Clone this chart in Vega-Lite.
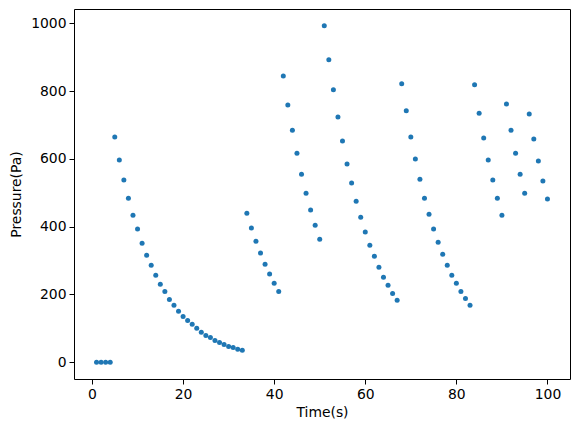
{
  "$schema": "https://vega.github.io/schema/vega-lite/v6.json",
  "autosize": {"type": "none"},
  "width": 496,
  "height": 370,
  "padding": {"left": 74, "top": 9, "right": 10, "bottom": 53},
  "background": "white",
  "config": {
    "font": "DejaVu Sans",
    "view": {"stroke": "black", "strokeWidth": 1},
    "axis": {
      "grid": false,
      "domain": false,
      "tickColor": "black",
      "tickSize": 5,
      "tickWidth": 1,
      "labelColor": "black",
      "labelFontSize": 13.9,
      "labelFont": "DejaVu Sans",
      "titleFont": "DejaVu Sans",
      "titleFontSize": 13.9,
      "titleFontWeight": "normal",
      "titleColor": "black",
      "labelPadding": 3
    }
  },
  "data": {
    "values": [
      {"t": 1, "p": 0}, {"t": 2, "p": 0}, {"t": 3, "p": 0}, {"t": 4, "p": 0},
      {"t": 5, "p": 665}, {"t": 6, "p": 597}, {"t": 7, "p": 538}, {"t": 8, "p": 484},
      {"t": 9, "p": 434}, {"t": 10, "p": 393}, {"t": 11, "p": 351}, {"t": 12, "p": 316},
      {"t": 13, "p": 286}, {"t": 14, "p": 257}, {"t": 15, "p": 230}, {"t": 16, "p": 209},
      {"t": 17, "p": 185}, {"t": 18, "p": 168}, {"t": 19, "p": 150}, {"t": 20, "p": 135},
      {"t": 21, "p": 123}, {"t": 22, "p": 112}, {"t": 23, "p": 100}, {"t": 24, "p": 88},
      {"t": 25, "p": 79}, {"t": 26, "p": 73}, {"t": 27, "p": 64}, {"t": 28, "p": 58},
      {"t": 29, "p": 52}, {"t": 30, "p": 46}, {"t": 31, "p": 43}, {"t": 32, "p": 38},
      {"t": 33, "p": 35},
      {"t": 34, "p": 440}, {"t": 35, "p": 396}, {"t": 36, "p": 357}, {"t": 37, "p": 322},
      {"t": 38, "p": 289}, {"t": 39, "p": 260}, {"t": 40, "p": 233}, {"t": 41, "p": 209},
      {"t": 42, "p": 845}, {"t": 43, "p": 759}, {"t": 44, "p": 685}, {"t": 45, "p": 617},
      {"t": 46, "p": 555}, {"t": 47, "p": 499}, {"t": 48, "p": 449}, {"t": 49, "p": 404},
      {"t": 50, "p": 363},
      {"t": 51, "p": 993}, {"t": 52, "p": 893}, {"t": 53, "p": 804}, {"t": 54, "p": 724},
      {"t": 55, "p": 653}, {"t": 56, "p": 585}, {"t": 57, "p": 529}, {"t": 58, "p": 475},
      {"t": 59, "p": 428}, {"t": 60, "p": 384}, {"t": 61, "p": 345}, {"t": 62, "p": 313},
      {"t": 63, "p": 280}, {"t": 64, "p": 251}, {"t": 65, "p": 227}, {"t": 66, "p": 203},
      {"t": 67, "p": 183},
      {"t": 68, "p": 822}, {"t": 69, "p": 742}, {"t": 70, "p": 665}, {"t": 71, "p": 600},
      {"t": 72, "p": 540}, {"t": 73, "p": 484}, {"t": 74, "p": 437}, {"t": 75, "p": 393},
      {"t": 76, "p": 354}, {"t": 77, "p": 319}, {"t": 78, "p": 286}, {"t": 79, "p": 257},
      {"t": 80, "p": 233}, {"t": 81, "p": 209}, {"t": 82, "p": 188}, {"t": 83, "p": 168},
      {"t": 84, "p": 819}, {"t": 85, "p": 735}, {"t": 86, "p": 662}, {"t": 87, "p": 597},
      {"t": 88, "p": 538}, {"t": 89, "p": 484}, {"t": 90, "p": 434},
      {"t": 91, "p": 762}, {"t": 92, "p": 685}, {"t": 93, "p": 617}, {"t": 94, "p": 555},
      {"t": 95, "p": 499},
      {"t": 96, "p": 733}, {"t": 97, "p": 659}, {"t": 98, "p": 594}, {"t": 99, "p": 535},
      {"t": 100, "p": 482}
    ]
  },
  "mark": {"type": "circle", "size": 25, "color": "#1f77b4", "opacity": 1},
  "encoding": {
    "x": {
      "field": "t",
      "type": "quantitative",
      "scale": {"domain": [-3.95, 104.95], "nice": false, "zero": false},
      "axis": {"values": [0, 20, 40, 60, 80, 100], "format": "d", "title": "Time(s)", "titlePadding": 5}
    },
    "y": {
      "field": "p",
      "type": "quantitative",
      "scale": {"domain": [-49.65, 1042.65], "nice": false, "zero": false},
      "axis": {"values": [0, 200, 400, 600, 800, 1000], "format": "d", "title": "Pressure(Pa)", "titlePadding": 7}
    }
  }
}
